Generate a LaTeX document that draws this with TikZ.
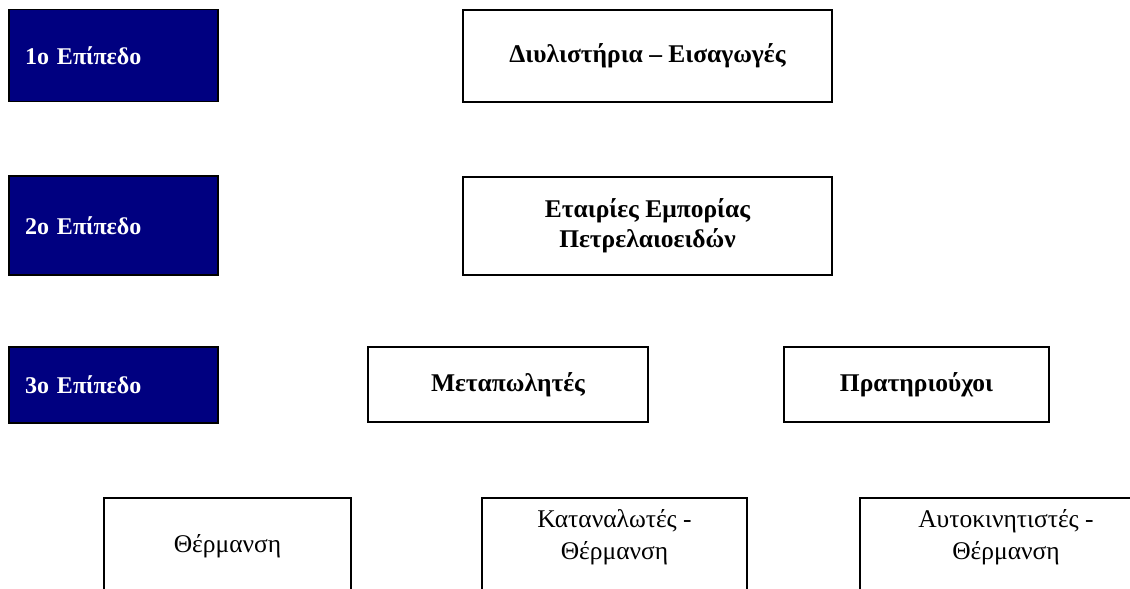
\documentclass[tikz,border=0pt]{standalone}
\usepackage{fontspec}
\setmainfont{Liberation Serif}
\definecolor{levelblue}{HTML}{000080}
\tikzset{
  levelbox/.style={draw=black, line width=1.6pt, fill=levelblue, text=white,
    inner xsep=16pt, inner ysep=0pt, align=left, text width=#1,
    font=\fontsize{24}{29}\selectfont\bfseries},
  actorbox/.style={draw=black, line width=1.6pt, fill=white, inner sep=0pt,
    align=center, font=\fontsize{25.5}{30}\selectfont\bfseries},
  userbox/.style={draw=black, line width=1.6pt, fill=white, inner sep=0pt,
    align=center, font=\fontsize{25.5}{32}\selectfont}
}
\begin{document}
\begin{tikzpicture}[x=1pt,y=-1pt]
\path[use as bounding box, clip] (0,0) rectangle (1130,589);
\fill[white] (0,0) rectangle (1130,589);
% level boxes
\node[levelbox=177pt, minimum width=209pt, minimum height=92pt] (lvlone) at (113.5,55.5) {1ο Επίπεδο};
\node[levelbox=177pt, minimum width=209pt, minimum height=99pt] (lvltwo) at (113.5,225.5) {2ο Επίπεδο};
\node[levelbox=177pt, minimum width=209pt, minimum height=76pt] (lvlthree) at (113.5,385) {3ο Επίπεδο};
% actors
\node[actorbox, minimum width=369pt, minimum height=92pt] (refin) at (647.5,56) {Διυλιστήρια – Εισαγωγές};
\node[actorbox, minimum width=369pt, minimum height=98pt] (comp) at (647.5,226) {Εταιρίες Εμπορίας\\Πετρελαιοειδών};
\node[actorbox, minimum width=280pt, minimum height=75pt] (resell) at (508,384.5) {Μεταπωλητές};
\node[actorbox, minimum width=265pt, minimum height=75pt] (stat) at (916.5,384.5) {Πρατηριούχοι};
% end users
\node[userbox, minimum width=247pt, minimum height=96pt] (heat) at (227.5,546) {Θέρμανση};
\node[userbox, minimum width=265pt, minimum height=96pt, text depth=22pt] (cons) at (614.5,546) {Καταναλωτές -\\Θέρμανση};
\node[userbox, minimum width=292pt, minimum height=96pt, text depth=22pt] (cars) at (1006,546) {Αυτοκινητιστές -\\Θέρμανση};
\end{tikzpicture}
\end{document}
